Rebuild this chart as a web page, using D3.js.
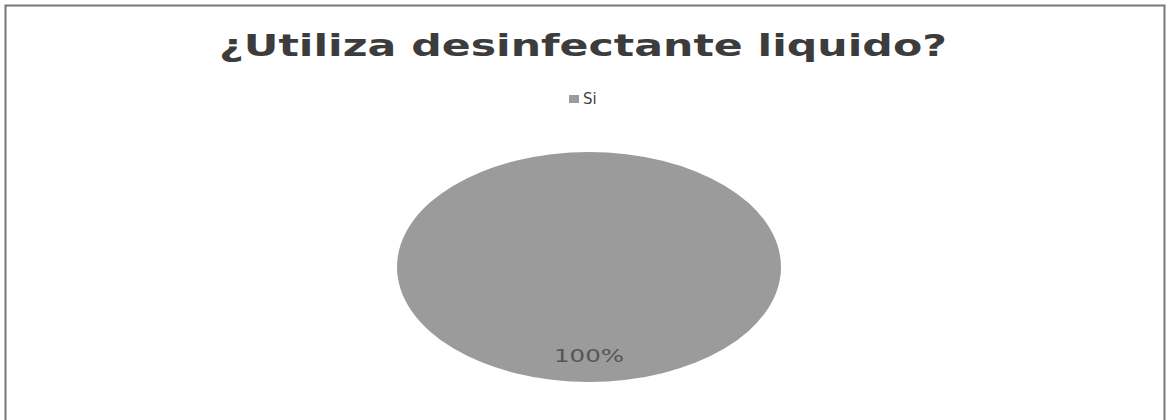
<!DOCTYPE html>
<html><head><meta charset="utf-8">
<script src="https://cdn.jsdelivr.net/npm/d3@7"></script>
<style>html,body{margin:0;padding:0;background:#fff;}svg{display:block;}</style>
</head><body>
<svg id="c" width="1166" height="420"></svg>
<script>
const categories = ["Si"];
const values = [100];
const labels = ["100%"];
const title = "¿Utiliza desinfectante liquido?";

const svg = d3.select("#c");
const W = 1166, H = 420;
svg.append("rect").attr("x", 5.5).attr("y", 5.5).attr("width", W - 7).attr("height", H + 10)
  .attr("fill", "#fff").attr("stroke", "#777").attr("stroke-width", 2);

svg.append("text").attr("x", 583).attr("y", 56).attr("text-anchor", "middle")
  .attr("font-family", "DejaVu Sans").attr("font-weight", "bold").attr("font-size", 31)
  .attr("textLength", 728).attr("lengthAdjust", "spacingAndGlyphs")
  .attr("fill", "#3c3c3c").text(title);

const color = d3.scaleOrdinal().domain(categories).range(["#9b9b9b"]);

const leg = svg.append("g").attr("transform", "translate(569,95)");
leg.append("rect").attr("width", 10).attr("height", 8).attr("fill", color(categories[0]));
leg.append("text").attr("x", 14).attr("y", 9).attr("font-family", "DejaVu Sans")
  .attr("font-size", 15).attr("fill", "#444").text(categories[0]);

const cx = 589, cy = 267, rx = 192, ry = 115;
const pie = d3.pie().sort(null);
const arcs = pie(values);
const arc = d3.arc().innerRadius(0).outerRadius(1);
const g = svg.append("g").attr("transform", `translate(${cx},${cy}) scale(${rx},${ry})`);
g.selectAll("path").data(arcs).enter().append("path")
  .attr("d", arc).attr("fill", (d, i) => color(categories[i]));

const lab = d3.arc().innerRadius(0.8).outerRadius(0.8);
svg.selectAll("text.lbl").data(arcs).enter().append("text").attr("class", "lbl")
  .attr("x", d => cx + lab.centroid(d)[0] * rx)
  .attr("y", d => cy + 0.82 * ry + 1)
  .attr("text-anchor", "middle").attr("font-family", "DejaVu Sans").attr("font-size", 18)
  .attr("textLength", 70).attr("lengthAdjust", "spacingAndGlyphs")
  .attr("fill", "#555").text((d, i) => labels[i]);
</script>
</body></html>
